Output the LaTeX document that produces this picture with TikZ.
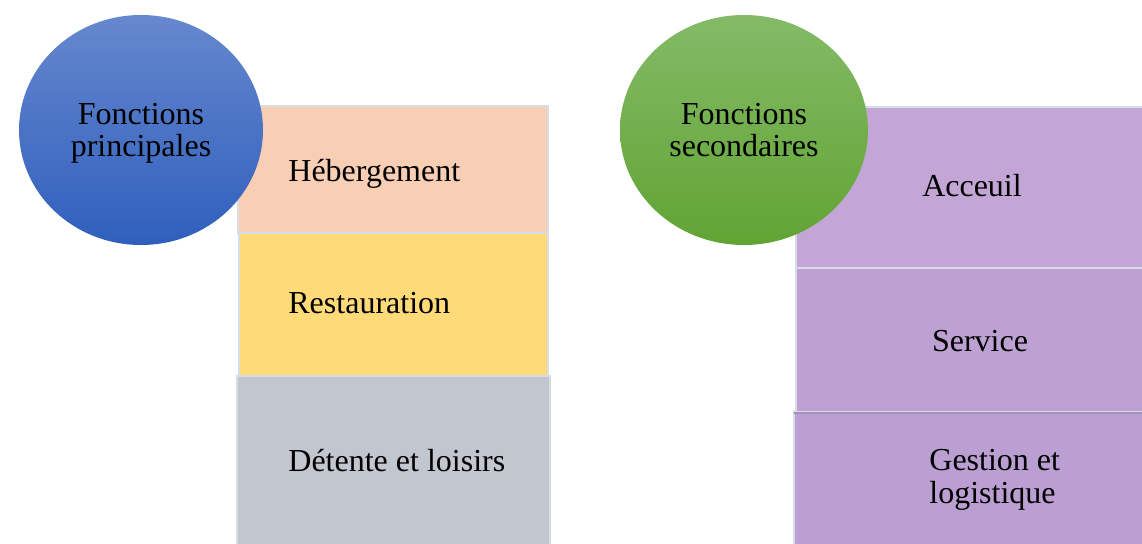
\documentclass[tikz,border=0pt]{standalone}
\usepackage{fontspec}
\setmainfont{Liberation Serif}
\definecolor{peach}{HTML}{F8CFB4}
\definecolor{gold}{HTML}{FFDA78}
\definecolor{slate}{HTML}{C2C7CF}
\definecolor{lilacA}{HTML}{C3A6D6}
\definecolor{lilacB}{HTML}{BDA1D2}
\definecolor{lilacC}{HTML}{BB9FD2}
\definecolor{edgegray}{HTML}{D6DDE4}
\definecolor{blueTop}{HTML}{6688CE}
\definecolor{blueBot}{HTML}{2F5FBD}
\definecolor{greenTop}{HTML}{84BA67}
\definecolor{greenBot}{HTML}{61A433}

\begin{document}
\begin{tikzpicture}[x=0.5pt,y=-0.5pt,
  box/.style={draw=edgegray, line width=0.6pt},
  label/.style={font=\fontsize{16}{16.3}\selectfont, inner sep=0pt}]

% Page frame
\clip (0,0) rectangle (1142,544);

% Main functions stack
\draw[box, fill=peach] (238,106) rectangle (548,233);
\draw[box, fill=gold] (239,233) rectangle (548,376);
\draw[box, fill=slate] (237,376) rectangle (550,560);

% Secondary functions stack
\draw[box, fill=lilacA] (796,107) rectangle (1160,268);
\draw[box, fill=lilacB] (796,268) rectangle (1160,412);
\draw[box, fill=lilacC] (794,412) rectangle (1160,560);
\draw[lilacC!80!black!60!lilacA, line width=0.8pt] (794,413) -- (1160,413);

% Circles (drawn over the stacks)
\coordinate (P) at (141,130);
\coordinate (S) at (744,130);
\shade[top color=blueTop, bottom color=blueBot] (P) ellipse [x radius=122, y radius=115];
\shade[top color=greenTop, bottom color=greenBot] (S) ellipse [x radius=124, y radius=115];

% Circle labels
\node[label, align=center] (princ) at (141,133.5) {Fonctions\\principales};
\node[label, align=center] (second) at (744,130) {Fonctions\\secondaires};

% Box labels
\node[label, anchor=base west] (heb) at (288,182) {Hébergement};
\node[label, anchor=base west] (resto) at (288,314) {Restauration};
\node[label, anchor=base west] (detente) at (288,472) {Détente et loisirs};
\node[label, anchor=base] (accueil) at (972,197) {Acceuil};
\node[label, anchor=base] (service) at (980,352) {Service};
\node[label, align=left, anchor=west] (gestion) at (929,480) {Gestion et\\logistique};

\end{tikzpicture}
\end{document}
